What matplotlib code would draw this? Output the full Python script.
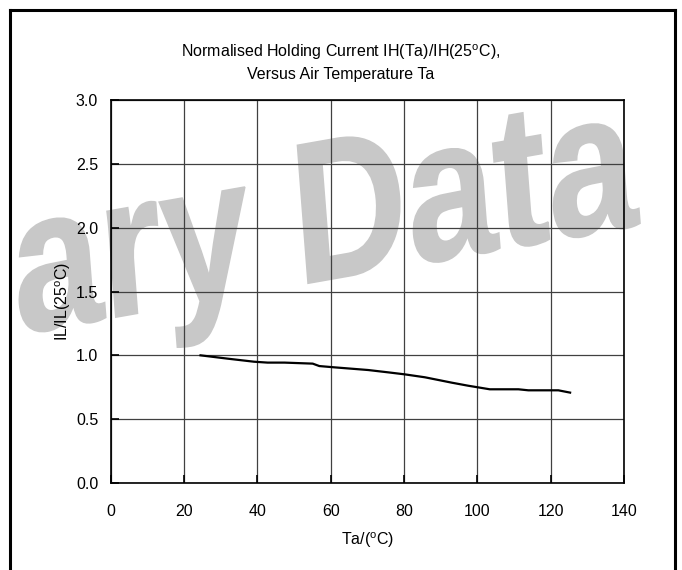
import matplotlib
matplotlib.use("Agg")
import matplotlib.pyplot as plt
from matplotlib.textpath import TextPath
from matplotlib.patches import PathPatch
from matplotlib.lines import Line2D
from matplotlib.font_manager import FontProperties
from matplotlib.transforms import Affine2D
import numpy as np

plt.rcParams['font.family'] = ['Liberation Sans', 'DejaVu Sans']
plt.rcParams['mathtext.fontset'] = 'custom'
plt.rcParams['mathtext.rm'] = 'Liberation Sans'

# Curve
temp = [24.5, 31.9, 39.1, 42.8, 47.4, 55.1, 56.9, 61.0, 70.2, 75.6,
        80.2, 85.7, 93.0, 97.5, 103.4, 111.2, 113.9, 122.1, 124.4, 125.3]
ratio = [1.0, 0.974, 0.950, 0.943, 0.943, 0.935, 0.916, 0.906, 0.885, 0.867,
         0.851, 0.828, 0.786, 0.762, 0.734, 0.734, 0.726, 0.726, 0.713, 0.708]

x_ticks = [0, 20, 40, 60, 80, 100, 120, 140]
y_ticks = [0.0, 0.5, 1.0, 1.5, 2.0, 2.5, 3.0]

W, H = 682, 570
fig = plt.figure(figsize=(W / 100, H / 100), dpi=100)
px = Affine2D().scale(1 / W, 1 / H) + fig.transFigure

# Gray watermark behind the chart
wm = TextPath((0, 0), "ary Data", size=1,
              prop=FontProperties(family='Liberation Sans', weight='bold'))
su, sv = 160, 201
a_u, a_v = np.deg2rad(10), np.deg2rad(4.4)
M = np.array([[su * np.cos(a_u), -sv * np.sin(a_v), 17.2],
              [su * np.sin(a_u), sv * np.cos(a_v), 235.5],
              [0, 0, 1]])
fig.add_artist(PathPatch(wm, transform=Affine2D(M) + px, facecolor='#c8c8c8',
                         edgecolor='#c8c8c8', lw=1.2, zorder=-1))

# Frame around the figure (no bottom edge visible)
for xs, ys in [([9.7, 9.7], [0, 560]), ([9.7, 675.3], [560, 560]),
               ([675.3, 675.3], [560, 0])]:
    fig.add_artist(Line2D(xs, ys, transform=px, color='black', lw=2.2,
                          solid_capstyle='projecting'))

ax = fig.add_axes([110.7 / W, (H - 483) / H, (624 - 110.7) / W, (483 - 100) / H])
ax.set_facecolor('none')
ax.plot(temp, ratio, color='black', lw=1.6)
ax.set_xlim(0, 140)
ax.set_ylim(0, 3.0)
ax.set_xticks(x_ticks)
ax.set_yticks(y_ticks)
ax.set_yticklabels([f"{v:.1f}" for v in y_ticks])
ax.grid(True, color='#404040', lw=0.9)
ax.tick_params(direction='in', length=6, width=1.2, color='black', labelsize=11.5)
ax.tick_params(axis='y', pad=9)
ax.tick_params(axis='x', pad=15)
for s in ax.spines.values():
    s.set_linewidth(1.2)

ax.set_xlabel(r"Ta/($^{\rm o}$C)", fontsize=11.5, labelpad=8)
ax.set_ylabel(r"IL/IL(25$^{\rm o}$C)", fontsize=11.5)
ax.yaxis.set_label_coords(-0.074, 0.475)

fig.text(341 / W, 1 - 52 / H, r"Normalised Holding Current IH(Ta)/IH(25$^{\rm o}$C),",
         ha='center', va='center', fontsize=11.5)
fig.text(341 / W, 1 - 74 / H, "Versus Air Temperature Ta",
         ha='center', va='center', fontsize=11.5)

fig.savefig("out.png", dpi=100)
